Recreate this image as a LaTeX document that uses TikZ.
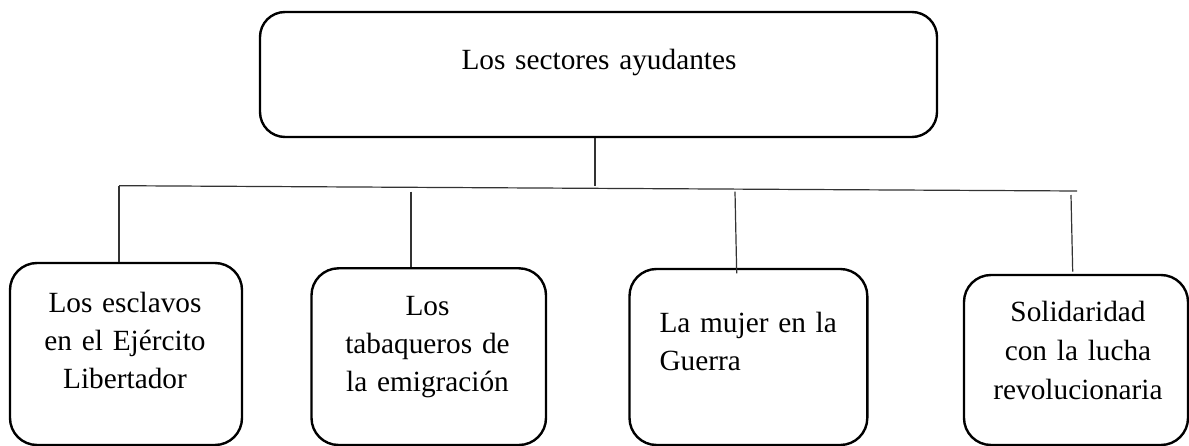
\documentclass[tikz,border=0pt]{standalone}
\usepackage{fontspec}
\setmainfont{Liberation Serif}
\begin{document}
\begin{tikzpicture}[x=1pt,y=-1pt,
  box/.style={draw=black, line width=2.4pt, rounded corners=27pt, inner sep=0pt, fill=none},
  topbox/.style={box, rounded corners=25pt},
  lbl/.style={inner sep=0pt, font=\fontsize{29.3}{38}\selectfont, text width=230pt, anchor=base},
  conn/.style={draw=black!80, line width=1.2pt}]
\useasboundingbox (0,0) rectangle (1189,446);
\fill[white] (0,0) rectangle (1189,446);
% boxes
\node[topbox, minimum width=677pt, minimum height=125pt] (top) at (598.5,74.5) {};
\node[box, minimum width=232pt, minimum height=182pt] (b1) at (126,354) {};
\node[box, minimum width=234.5pt, minimum height=176.7pt] (b2) at (428.75,356.65) {};
\node[box, minimum width=237.8pt, minimum height=176pt] (b3) at (748.4,357) {};
\node[box, minimum width=224pt, minimum height=170pt] (b4) at (1076,360) {};
% texts
\node[lbl, align=center, text width=400pt] (ttop) at (599,69.3) {Los sectores ayudantes};
\node[lbl, align=center] (t1) at (125,312.7) {Los esclavos\\en el Ejército\\Libertador};
\node[lbl, align=center] (t2) at (427.5,315.5) {Los\\tabaqueros de\\la emigración};
\node[lbl, align=left, anchor=base west, text width=200pt] (t3) at (659.3,332.5) {La mujer en la\\Guerra};
\node[lbl, align=center, font=\fontsize{29.3}{39}\selectfont] (t4) at (1078,321.7) {Solidaridad\\con la lucha\\revolucionaria};
% connector points
\coordinate (busL) at (119,185.7);
\coordinate (busR) at (1077,191);
\coordinate (j0) at (595,186);
\coordinate (d2a) at (411,191.7);
\coordinate (d2b) at (411,266.7);
\coordinate (d3a) at (735,191.7);
\coordinate (d3b) at (736.7,273.3);
\coordinate (d4a) at (1071,195);
\coordinate (d4b) at (1072.7,271.7);
% connectors
\draw[conn] (top.south -| j0) -- (j0);
\draw[conn] (busL) -- (busR);
\draw[conn] (busL) -- (b1.north -| busL);
\draw[conn] (d2a) -- (d2b);
\draw[conn] (d3a) -- (d3b);
\draw[conn] (d4a) -- (d4b);
\end{tikzpicture}
\end{document}
